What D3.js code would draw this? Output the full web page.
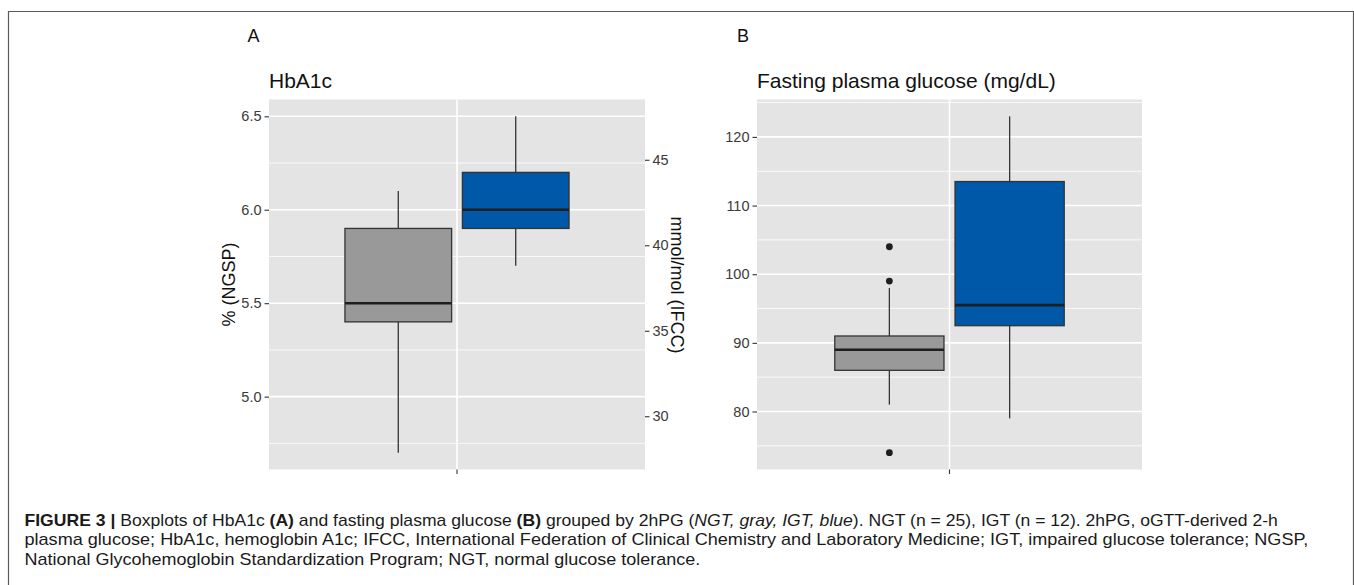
<!DOCTYPE html>
<html>
<head>
<meta charset="utf-8">
<script src="https://cdn.jsdelivr.net/npm/d3@7"></script>
<style>
  html, body { margin: 0; padding: 0; background: #ffffff; }
  svg { display: block; }
  text { font-family: "Liberation Sans", Arial, Helvetica, sans-serif; }
</style>
</head>
<body>
<svg id="chart" width="1354" height="585"></svg>
<script>
// ---------------- DATA ----------------
const categories = ["2hPG"];
const groups = ["NGT", "IGT"];

// Panel A: HbA1c (% NGSP)
const hba1cMin    = [4.7, 5.7];
const hba1cQ1     = [5.4, 5.9];
const hba1cMedian = [5.5, 6.0];
const hba1cQ3     = [5.9, 6.2];
const hba1cMax    = [6.1, 6.5];
const hba1cOutliers = [[], []];
const hba1cTicks  = [5.0, 5.5, 6.0, 6.5];
const ifccTicks   = [30, 35, 40, 45];

// Panel B: Fasting plasma glucose (mg/dL)
const fpgMin    = [81, 79];
const fpgQ1     = [86, 92.5];
const fpgMedian = [89, 95.5];
const fpgQ3     = [91, 113.5];
const fpgMax    = [98, 123];
const fpgOutliers = [[104, 99, 74], []];
const fpgTicks  = [80, 90, 100, 110, 120];

// ---------------- STYLE ----------------
const fills = { NGT: "#999999", IGT: "#0058A8" };
const svg = d3.select("#chart");

// frame
svg.append("path")
  .attr("d", "M8.5,585V11.5H1353.5V585")
  .attr("fill", "none").attr("stroke", "#5a5a5a").attr("stroke-width", 1.2);

function ngspToIfcc(v) { return (v - 2.15) * 10.929; }

function styleAxis(ax) {
  ax.select(".domain").remove();
  ax.selectAll(".tick line").attr("stroke", "#333333").attr("stroke-width", 1.1);
  ax.selectAll(".tick text").attr("fill", "#3a3a3a").style("font-size", "14.5px")
    .style("font-family", '"Liberation Sans", Arial, sans-serif');
}

function panel(opts) {
  const { x0, x1, y0, y1, mins, q1s, meds, q3s, maxs, outs, ticks, fmt } = opts;
  const W = x1 - x0, H = y1 - y0;
  const g = svg.append("g").attr("transform", `translate(${x0},${y0})`);

  const allVals = mins.concat(maxs, outs.flat());
  const lo = d3.min(allVals), hi = d3.max(allVals);
  const pad = (hi - lo) * 0.05;
  const y = d3.scaleLinear().domain([lo - pad, hi + pad]).range([H, 0]);

  const xCat = d3.scaleBand().domain(categories).range([0, W])
    .paddingInner(0.404).paddingOuter(0.202);
  const xGrp = d3.scaleBand().domain(groups).range([0, xCat.bandwidth()])
    .paddingInner(0.092);

  g.append("rect").attr("width", W).attr("height", H).attr("fill", "#E4E4E4");

  const step = ticks[1] - ticks[0];
  const minor = [];
  for (let i = -1; i < ticks.length; i++) {
    const v = (i < 0 ? ticks[0] - step / 2 : ticks[i] + step / 2);
    if (v > y.domain()[0] && v < y.domain()[1]) minor.push(v);
  }
  g.selectAll(".minor").data(minor).join("line")
    .attr("x1", 0).attr("x2", W)
    .attr("y1", d => y(d)).attr("y2", d => y(d))
    .attr("stroke", "#ffffff").attr("stroke-width", 0.8);
  g.selectAll(".major").data(ticks).join("line")
    .attr("x1", 0).attr("x2", W)
    .attr("y1", d => y(d)).attr("y2", d => y(d))
    .attr("stroke", "#ffffff").attr("stroke-width", 1.6);
  g.selectAll(".vmajor").data(categories).join("line")
    .attr("x1", d => xCat(d) + xCat.bandwidth() / 2)
    .attr("x2", d => xCat(d) + xCat.bandwidth() / 2)
    .attr("y1", 0).attr("y2", H)
    .attr("stroke", "#ffffff").attr("stroke-width", 1.6);

  const cx = i => xCat(categories[0]) + xGrp(groups[i]) + xGrp.bandwidth() / 2;
  const bx = i => xCat(categories[0]) + xGrp(groups[i]);
  groups.forEach((grp, i) => {
    const bg = g.append("g");
    bg.append("line").attr("x1", cx(i)).attr("x2", cx(i))
      .attr("y1", y(maxs[i])).attr("y2", y(q3s[i]))
      .attr("stroke", "#333333").attr("stroke-width", 1.3);
    bg.append("line").attr("x1", cx(i)).attr("x2", cx(i))
      .attr("y1", y(q1s[i])).attr("y2", y(mins[i]))
      .attr("stroke", "#333333").attr("stroke-width", 1.3);
    bg.append("rect").attr("x", bx(i)).attr("width", xGrp.bandwidth())
      .attr("y", y(q3s[i])).attr("height", y(q1s[i]) - y(q3s[i]))
      .attr("fill", fills[grp]).attr("stroke", "#333333").attr("stroke-width", 1.3);
    bg.append("line").attr("x1", bx(i)).attr("x2", bx(i) + xGrp.bandwidth())
      .attr("y1", y(meds[i])).attr("y2", y(meds[i]))
      .attr("stroke", "#1e1e1e").attr("stroke-width", 2.6);
    bg.selectAll("circle").data(outs[i]).join("circle")
      .attr("cx", cx(i)).attr("cy", d => y(d)).attr("r", 3.4)
      .attr("fill", "#1e1e1e");
  });

  const ax = g.append("g").call(d3.axisLeft(y).tickValues(ticks).tickFormat(fmt)
    .tickSize(4.5).tickPadding(3));
  styleAxis(ax);

  const bxax = g.append("g").attr("transform", `translate(0,${H})`)
    .call(d3.axisBottom(xCat).tickSize(4.5).tickFormat(""));
  bxax.select(".domain").remove();
  bxax.selectAll(".tick line").attr("stroke", "#333333").attr("stroke-width", 1.1);

  return { g, y, W, H };
}

// ---------- Panel A ----------
const A = panel({
  x0: 269, x1: 645, y0: 99.5, y1: 469.5,
  mins: hba1cMin, q1s: hba1cQ1, meds: hba1cMedian, q3s: hba1cQ3, maxs: hba1cMax,
  outs: hba1cOutliers, ticks: hba1cTicks, fmt: d3.format(".1f")
});
const yIfcc = d3.scaleLinear()
  .domain(A.y.domain().map(ngspToIfcc)).range(A.y.range());
const axR = A.g.append("g").attr("transform", `translate(${A.W},0)`)
  .call(d3.axisRight(yIfcc).tickValues(ifccTicks).tickSize(4.5).tickPadding(3));
styleAxis(axR);

svg.append("text").attr("x", 247.5).attr("y", 41.5).text("A")
  .style("font-size", "18px").attr("fill", "#111");
svg.append("text").attr("x", 269).attr("y", 87.5).text("HbA1c")
  .style("font-size", "21px").attr("fill", "#111");
svg.append("text").attr("transform", "translate(234.5,284.5) rotate(-90)")
  .attr("text-anchor", "middle").text("% (NGSP)")
  .style("font-size", "18px").attr("fill", "#111");
svg.append("text").attr("transform", "translate(671,285) rotate(90)")
  .attr("text-anchor", "middle").text("mmol/mol (IFCC)")
  .style("font-size", "18px").attr("fill", "#111");

// ---------- Panel B ----------
const B = panel({
  x0: 757, x1: 1142, y0: 99.5, y1: 469.5,
  mins: fpgMin, q1s: fpgQ1, meds: fpgMedian, q3s: fpgQ3, maxs: fpgMax,
  outs: fpgOutliers, ticks: fpgTicks, fmt: d3.format("d")
});
svg.append("text").attr("x", 737).attr("y", 41.5).text("B")
  .style("font-size", "18px").attr("fill", "#111");
svg.append("text").attr("x", 757).attr("y", 87.5).text("Fasting plasma glucose (mg/dL)")
  .style("font-size", "21px").attr("fill", "#111");

// ---------- Caption ----------
const captionLines = [
  { y: 525.5, width: 1254, parts: [
    ["FIGURE 3 | ", "b"], ["Boxplots of HbA1c ", ""], ["(A)", "b"],
    [" and fasting plasma glucose ", ""], ["(B)", "b"], [" grouped by 2hPG (", ""],
    ["NGT, gray, IGT, blue", "i"], ["). NGT (n = 25), IGT (n = 12). 2hPG, oGTT-derived 2-h", ""] ] },
  { y: 545, width: 1285, parts: [
    ["plasma glucose; HbA1c, hemoglobin A1c; IFCC, International Federation of Clinical Chemistry and Laboratory Medicine; IGT, impaired glucose tolerance; NGSP,", ""] ] },
  { y: 564.5, width: 676, parts: [
    ["National Glycohemoglobin Standardization Program; NGT, normal glucose tolerance.", ""] ] }
];
captionLines.forEach(line => {
  const t = svg.append("text").attr("x", 0).attr("y", 0)
    .style("font-size", "16px").attr("fill", "#1a1a1a");
  line.parts.forEach(([s, st]) => {
    const ts = t.append("tspan").text(s);
    if (st === "b") ts.attr("font-weight", "bold");
    if (st === "i") ts.attr("font-style", "italic");
  });
  const w = t.node().getComputedTextLength();
  const sx = line.width / w;
  t.attr("transform", `translate(24.5,${line.y}) scale(${sx},1)`);
});
</script>
</body>
</html>
